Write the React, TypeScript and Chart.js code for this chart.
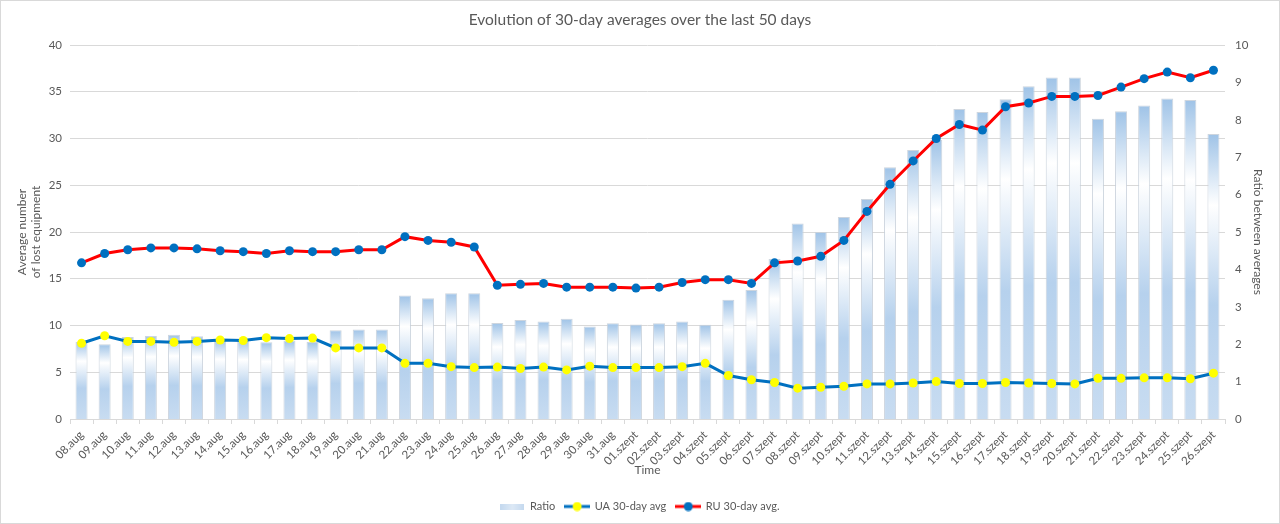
import React, { useEffect, useRef } from "react";
import { Chart, registerables } from "chart.js";
Chart.register(...registerables);

const FONT = "Lato, 'Noto Sans', sans-serif";
const TEXT = "#595959";
const GRID = "#d9d9d9";

const labels = [
  "08.aug", "09.aug", "10.aug", "11.aug", "12.aug", "13.aug", "14.aug", "15.aug",
  "16.aug", "17.aug", "18.aug", "19.aug", "20.aug", "21.aug", "22.aug", "23.aug",
  "24.aug", "25.aug", "26.aug", "27.aug", "28.aug", "29.aug", "30.aug", "31.aug",
  "01.szept", "02.szept", "03.szept", "04.szept", "05.szept", "06.szept", "07.szept",
  "08.szept", "09.szept", "10.szept", "11.szept", "12.szept", "13.szept", "14.szept",
  "15.szept", "16.szept", "17.szept", "18.szept", "19.szept", "20.szept", "21.szept",
  "22.szept", "23.szept", "24.szept", "25.szept", "26.szept",
];

const ratio = [
  2.06, 2.0, 2.19, 2.22, 2.25, 2.21, 2.13, 2.12, 2.05, 2.1, 2.06, 2.37, 2.39, 2.39,
  3.3, 3.23, 3.36, 3.36, 2.57, 2.65, 2.61, 2.68, 2.47, 2.56,
  2.53, 2.56, 2.61, 2.52, 3.19, 3.45, 4.28, 5.23, 5.0, 5.4, 5.88, 6.73, 7.19, 7.46,
  8.29, 8.21, 8.55, 8.9, 9.13, 9.13, 8.03, 8.23, 8.38, 8.57, 8.53, 7.62,
];

const uaAvg = [
  8.1, 8.9, 8.3, 8.3, 8.2, 8.3, 8.45, 8.4, 8.7, 8.6, 8.65, 7.6, 7.6, 7.6,
  5.95, 5.95, 5.6, 5.5, 5.55, 5.4, 5.55, 5.25, 5.65, 5.5,
  5.5, 5.5, 5.6, 5.95, 4.65, 4.2, 3.9, 3.3, 3.4, 3.5, 3.75, 3.75, 3.85, 4.0,
  3.8, 3.8, 3.9, 3.85, 3.8, 3.75, 4.35, 4.35, 4.4, 4.4, 4.3, 4.9,
];

const ruAvg = [
  16.7, 17.7, 18.1, 18.3, 18.3, 18.2, 18.0, 17.9, 17.7, 18.0, 17.9, 17.9, 18.1, 18.1,
  19.5, 19.1, 18.9, 18.4, 14.3, 14.4, 14.5, 14.1, 14.1, 14.1,
  14.0, 14.1, 14.6, 14.9, 14.9, 14.5, 16.7, 16.9, 17.4, 19.1, 22.2, 25.1, 27.6, 30.0,
  31.5, 30.9, 33.4, 33.8, 34.5, 34.5, 34.6, 35.5, 36.4, 37.1, 36.5, 37.3,
];

const legendNames = ["Ratio", "UA 30-day avg", "RU 30-day avg."];

function addStops(g: CanvasGradient) {
  g.addColorStop(0, "#9fc3e7");
  g.addColorStop(0.25, "#ffffff");
  g.addColorStop(0.6, "#b6d1ed");
  g.addColorStop(1, "#c8dcf1");
  return g;
}

function lineSymbol(line: string, dot: string) {
  const c = document.createElement("canvas");
  c.width = 26;
  c.height = 10;
  const x = c.getContext("2d")!;
  x.strokeStyle = line;
  x.lineWidth = 3;
  x.beginPath();
  x.moveTo(0, 5);
  x.lineTo(26, 5);
  x.stroke();
  x.fillStyle = dot;
  x.beginPath();
  x.arc(13, 5, 4.5, 0, Math.PI * 2);
  x.fill();
  return c;
}

function barSymbol() {
  const c = document.createElement("canvas");
  c.width = 24;
  c.height = 6;
  const x = c.getContext("2d")!;
  const g = x.createLinearGradient(0, 0, 24, 0);
  g.addColorStop(0, "#c4d9ef");
  g.addColorStop(0.5, "#dde9f6");
  g.addColorStop(1, "#c4d9ef");
  x.fillStyle = g;
  x.fillRect(0, 0, 24, 6);
  return c;
}

export default function App() {
  const ref = useRef<HTMLCanvasElement>(null);

  useEffect(() => {
    document.body.style.margin = "0";
    const canvas = ref.current!;
    const symbols = [barSymbol(), lineSymbol("#0070c0", "#ffff00"), lineSymbol("#ff0000", "#0070c0")];

    const frame = {
      id: "frame",
      afterDraw(chart: any) {
        const c = chart.ctx;
        c.save();
        c.strokeStyle = GRID;
        c.lineWidth = 1;
        c.strokeRect(0.5, 0.5, chart.width - 1, chart.height - 1);
        c.restore();
      },
    };

    const chart = new Chart(canvas, {
      type: "bar",
      data: {
        labels,
        datasets: [
          {
            type: "line",
            label: "RU 30-day avg.",
            data: ruAvg,
            yAxisID: "y",
            borderColor: "#ff0000",
            borderWidth: 3,
            pointBackgroundColor: "#0070c0",
            pointBorderColor: "#0070c0",
            pointBorderWidth: 0,
            pointRadius: 4.5,
            tension: 0,
            order: 1,
          },
          {
            type: "line",
            label: "UA 30-day avg",
            data: uaAvg,
            yAxisID: "y",
            borderColor: "#0070c0",
            borderWidth: 3,
            pointBackgroundColor: "#ffff00",
            pointBorderColor: "#ffff00",
            pointBorderWidth: 0,
            pointRadius: 4.5,
            tension: 0,
            order: 2,
          },
          {
            type: "bar",
            label: "Ratio",
            data: ratio,
            yAxisID: "y1",
            backgroundColor: (c: any) => {
              const ch = c.chart;
              const s = ch.scales && ch.scales.y1;
              if (!s || c.type !== "data" || !ch.ctx) return "#c8dcf1";
              const top = s.getPixelForValue(c.raw);
              const bot = s.getPixelForValue(0);
              if (!isFinite(top) || !isFinite(bot) || top === bot) return "#c8dcf1";
              return addStops(ch.ctx.createLinearGradient(0, top, 0, bot));
            },
            borderColor: "rgba(200,208,218,0.9)",
            borderWidth: 1,
            barPercentage: 0.52,
            categoryPercentage: 1,
            order: 3,
          },
        ],
      },
      options: {
        responsive: true,
        maintainAspectRatio: false,
        animation: false,
        layout: { padding: { left: 0, right: 0, top: 0, bottom: 2 } },
        plugins: {
          title: {
            display: true,
            text: "Evolution of 30-day averages over the last 50 days",
            color: TEXT,
            font: { family: FONT, size: 15.5, weight: "normal" },
            padding: { top: 11, bottom: 15.4 },
          },
          legend: {
            position: "bottom",
            labels: {
              usePointStyle: true,
              pointStyleWidth: 24,
              padding: 10,
              color: TEXT,
              font: { family: FONT, size: 11 },
              generateLabels: () =>
                legendNames.map((t, i) => ({
                  text: t,
                  pointStyle: symbols[i] as any,
                  fillStyle: "transparent",
                  strokeStyle: "transparent",
                  lineWidth: 0,
                  hidden: false,
                  fontColor: TEXT,
                  datasetIndex: [2, 1, 0][i],
                })),
            },
          },
          tooltip: { enabled: false },
        },
        scales: {
          x: {
            grid: { display: true, drawOnChartArea: false, color: GRID, tickLength: 5, offset: true },
            border: { display: true, color: GRID },
            ticks: {
              color: TEXT,
              font: { family: FONT, size: 11.5 },
              minRotation: 45,
              maxRotation: 45,
              autoSkip: false,
              padding: 4,
            },
            title: {
              display: true,
              text: "Time",
              color: TEXT,
              font: { family: FONT, size: 12 },
              padding: { top: 0, bottom: 13.8 },
            },
            afterFit: (s: any) => {
              s.height = 72;
            },
          },
          y: {
            position: "left",
            min: 0,
            max: 40,
            ticks: { stepSize: 5, color: TEXT, font: { family: FONT, size: 11.5 }, padding: 8 },
            grid: { color: GRID, drawTicks: false },
            border: { display: false },
            title: {
              display: true,
              text: ["Average number", "of lost equipment"],
              color: TEXT,
              font: { family: FONT, size: 12 },
              padding: { top: 14.8, bottom: 0 },
            },
            afterFit: (s: any) => {
              s.width = 70;
            },
          },
          y1: {
            position: "right",
            min: 0,
            max: 10,
            ticks: { stepSize: 1, color: TEXT, font: { family: FONT, size: 11.5 }, padding: 10 },
            grid: { display: false, drawTicks: false },
            border: { display: false },
            title: {
              display: true,
              text: "Ratio between averages",
              color: TEXT,
              font: { family: FONT, size: 12 },
              padding: { top: 14.8, bottom: 0 },
            },
            afterFit: (s: any) => {
              s.width = 55;
            },
          },
        },
      } as any,
      plugins: [frame],
    });

    return () => chart.destroy();
  }, []);

  return (
    <div style={{ width: 1280, height: 524, position: "relative", background: "#ffffff" }}>
      <canvas ref={ref} />
    </div>
  );
}
